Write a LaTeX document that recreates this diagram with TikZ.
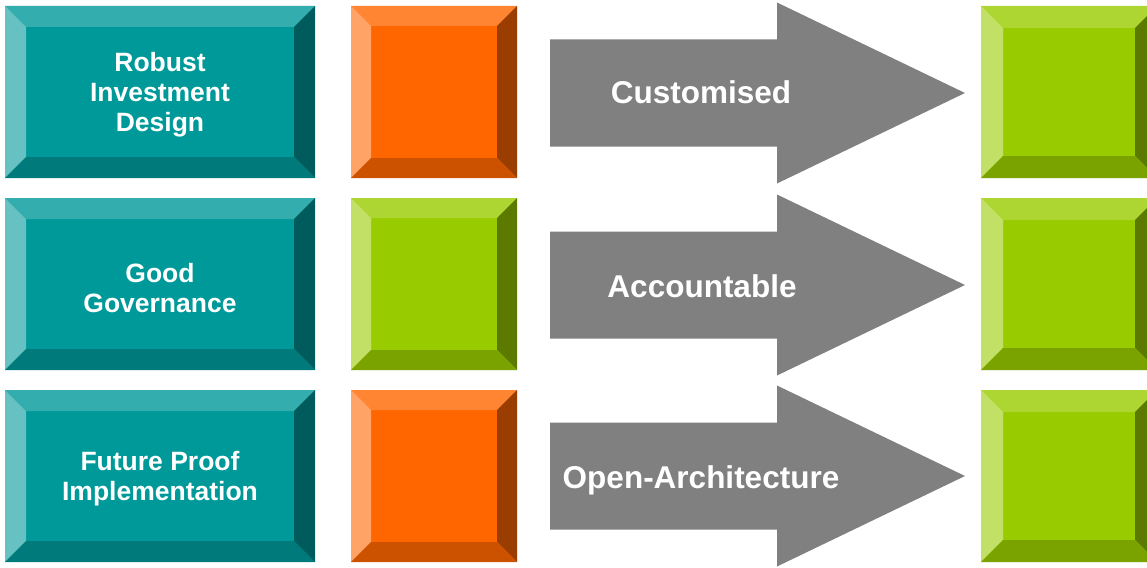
\documentclass[tikz,border=0pt]{standalone}
\usepackage{fontspec}
\setmainfont{Liberation Sans}
\usetikzlibrary{positioning}

\definecolor{tealface}{HTML}{009999}
\definecolor{tealtop}{HTML}{33ADAD}
\definecolor{tealleft}{HTML}{66C2C2}
\definecolor{tealright}{HTML}{005C5C}
\definecolor{tealbottom}{HTML}{007A7A}
\definecolor{orangeface}{HTML}{FF6600}
\definecolor{orangetop}{HTML}{FF8533}
\definecolor{orangeleft}{HTML}{FFA366}
\definecolor{orangeright}{HTML}{993D00}
\definecolor{orangebottom}{HTML}{CC5200}
\definecolor{greenface}{HTML}{99CC00}
\definecolor{greentop}{HTML}{ADD633}
\definecolor{greenleft}{HTML}{C2E066}
\definecolor{greenright}{HTML}{5C7A00}
\definecolor{greenbottom}{HTML}{7AA300}
\definecolor{arrowgrey}{HTML}{808080}

% #1 node, #2 bevel width, #3 colour prefix
\newcommand{\bevel}[3]{%
	\fill[#3top] (#1.north west) -- (#1.north east) -- ([shift={(-#2,#2)}]#1.north east) -- ([shift={(#2,#2)}]#1.north west) -- cycle;
	\fill[#3left] (#1.north west) -- ([shift={(#2,#2)}]#1.north west) -- ([shift={(#2,-#2)}]#1.south west) -- (#1.south west) -- cycle;
	\fill[#3right] (#1.north east) -- ([shift={(-#2,#2)}]#1.north east) -- ([shift={(-#2,-#2)}]#1.south east) -- (#1.south east) -- cycle;
	\fill[#3bottom] (#1.south west) -- ([shift={(#2,-#2)}]#1.south west) -- ([shift={(-#2,-#2)}]#1.south east) -- (#1.south east) -- cycle;
}

% #1 middle of the arrow tail
\newcommand{\bigarrow}[1]{%
	\fill[arrowgrey] ([shift={(0,-53.5)}]#1) -- ++(227,0) -- ++(0,-37) -- ++(188,90.5) -- ++(-188,90.5) -- ++(0,-37) -- ++(-227,0) -- cycle;
}

\begin{document}
\begin{tikzpicture}[x=1pt,y=-1pt,
	tealbox/.style={minimum width=310pt,minimum height=172pt,outer sep=0pt,inner sep=0pt,fill=tealface},
	markbox/.style={minimum width=166pt,minimum height=172pt,outer sep=0pt,inner sep=0pt},
	boxtext/.style={text=white,align=center,font=\bfseries\fontsize{26.5}{30}\selectfont},
	arrowtext/.style={text=white,text height=22pt,text depth=0pt,font=\bfseries\fontsize{31.5}{36}\selectfont}]
	\useasboundingbox (0,0) rectangle (1147,567);
	\clip (0,0) rectangle (1147,567);

	\node [tealbox] at (160,92) (robust) {};
	\node [tealbox,below=20pt of robust] (governance) {};
	\node [tealbox,below=20pt of governance] (future) {};

	\node [markbox,fill=orangeface,right=36pt of robust] (robust_mark) {};
	\node [markbox,fill=greenface,right=36pt of governance] (governance_mark) {};
	\node [markbox,fill=orangeface,right=36pt of future] (future_mark) {};

	\node [markbox,fill=greenface,minimum width=176pt] at (1069,92) (custom_mark) {};
	\node [markbox,fill=greenface,minimum width=176pt] at (1069,284) (account_mark) {};
	\node [markbox,fill=greenface,minimum width=176pt] at (1069,476) (open_mark) {};

	\bevel{robust}{21}{teal}
	\bevel{governance}{21}{teal}
	\bevel{future}{21}{teal}
	\bevel{robust_mark}{20}{orange}
	\bevel{governance_mark}{20}{green}
	\bevel{future_mark}{20}{orange}
	\bevel{custom_mark}{22}{green}
	\bevel{account_mark}{22}{green}
	\bevel{open_mark}{22}{green}

	\node [boxtext] at ([yshift=-3pt]robust.center) (robust_text) {Robust\\Investment\\Design};
	\node [boxtext] at ([yshift=-4pt]governance.center) (governance_text) {Good\\Governance};
	\node [boxtext] at ([yshift=-3pt]future.center) (future_text) {Future Proof\\Implementation};

	\coordinate (custom_tail) at (550,93);
	\coordinate (account_tail) at (550,285);
	\coordinate (open_tail) at (550,476);
	\bigarrow{custom_tail}
	\bigarrow{account_tail}
	\bigarrow{open_tail}

	\node [arrowtext] at (701,93) (custom) {Customised};
	\node [arrowtext] at (702,286) (account) {Accountable};
	\node [arrowtext] at (701,477) (open) {Open-Architecture};
\end{tikzpicture}
\end{document}
